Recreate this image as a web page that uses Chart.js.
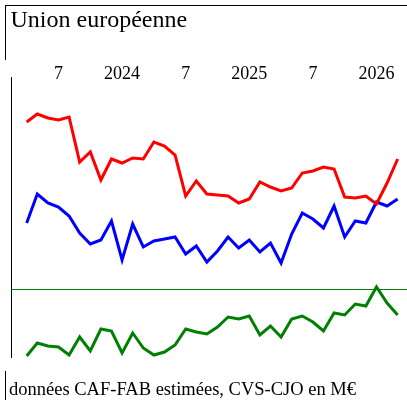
<!DOCTYPE html>
<html>
<head>
<meta charset="utf-8">
<script src="https://cdn.jsdelivr.net/npm/chart.js@4/dist/chart.umd.min.js"></script>
<style>
  html, body { margin: 0; padding: 0; background: #fff; }
  body { width: 407px; height: 400px; position: relative; overflow: hidden; font-family: "Liberation Serif", "Times New Roman", serif; }
  #c { position: absolute; left: 0; top: 0; }
  .box { position: absolute; box-sizing: border-box; }
  #titlebox { left: 5px; top: 5px; width: 402px; height: 55px; border-top: 1px solid #000; border-left: 1px solid #000; }
  #footbox { left: 5px; top: 371px; width: 402px; height: 29px; border-left: 1px solid #000; }
  .txt { position: absolute; white-space: nowrap; color: #000; }
  #title { left: 10.5px; top: 7.4px; font-size: 24px; line-height: 24px; }
  #foot { left: 9px; top: 379.5px; font-size: 18.5px; line-height: 18.5px; }
</style>
</head>
<body>
<canvas id="c" width="407" height="400"></canvas>
<div class="box" id="titlebox"></div>
<div class="box" id="footbox"></div>
<div class="txt" id="title">Union européenne</div>
<div class="txt" id="foot">données CAF-FAB estimées, CVS-CJO en M€</div>
<script>
// Months (categories), April 2023 to March 2026
const months = [
  '2023-04','2023-05','2023-06','2023-07','2023-08','2023-09','2023-10','2023-11','2023-12',
  '2024-01','2024-02','2024-03','2024-04','2024-05','2024-06','2024-07','2024-08','2024-09',
  '2024-10','2024-11','2024-12','2025-01','2025-02','2025-03','2025-04','2025-05','2025-06',
  '2025-07','2025-08','2025-09','2025-10','2025-11','2025-12','2026-01','2026-02','2026-03'
];
// Series values
const redSeries = [16.7,17.5,17.1,16.9,17.2,12.7,13.7,10.9,13.0,12.6,13.1,13.0,14.7,14.3,13.4,9.3,10.8,9.5,
                   9.4,9.3,8.6,9.0,10.7,10.2,9.8,10.1,11.6,11.8,12.2,12.0,9.2,9.1,9.3,8.5,10.6,13.0];
const blueSeries = [6.6,9.5,8.6,8.2,7.3,5.6,4.5,4.9,6.8,2.9,6.5,4.2,4.8,5.0,5.2,3.5,4.3,2.7,
                    3.8,5.2,4.1,4.9,3.7,4.6,2.6,5.5,7.6,7.0,6.1,8.3,5.2,6.8,6.6,8.7,8.3,9.0];
const greenSeries = [-6.7,-5.4,-5.7,-5.8,-6.6,-4.8,-6.2,-4.0,-4.2,-6.4,-4.4,-5.9,-6.6,-6.3,-5.6,-4.0,-4.3,-4.5,
                     -3.8,-2.8,-3.0,-2.7,-4.6,-3.7,-4.8,-3.0,-2.7,-3.3,-4.2,-2.4,-2.6,-1.5,-1.7,0.2,-1.4,-2.6];

// Tick labels: "7" for July, the year for January
function tickLabelFor(m) {
  const [y, mo] = m.split('-');
  if (mo === '01') return y;
  if (mo === '07') return '7';
  return null;
}

const toPoints = arr => arr.map((v, i) => ({ x: i, y: v }));

new Chart(document.getElementById('c'), {
  type: 'line',
  data: {
    datasets: [
      { data: toPoints(redSeries), borderColor: 'rgb(255,0,0)', borderWidth: 3, pointRadius: 0, fill: false, tension: 0 },
      { data: toPoints(blueSeries), borderColor: 'rgb(0,0,255)', borderWidth: 3, pointRadius: 0, fill: false, tension: 0 },
      { data: toPoints(greenSeries), borderColor: 'rgb(0,128,0)', borderWidth: 3, pointRadius: 0, fill: false, tension: 0 }
    ]
  },
  options: {
    responsive: false,
    animation: false,
    events: [],
    layout: { padding: { left: 11, right: 0, top: 63.7, bottom: 43 } },
    plugins: { legend: { display: false }, tooltip: { enabled: false }, title: { display: false } },
    scales: {
      x: {
        type: 'linear',
        position: 'top',
        min: -1.48,
        max: 35.88,
        grid: { display: false, drawTicks: false },
        border: { display: false },
        afterBuildTicks: (scale) => {
          scale.ticks = months.map((m, i) => ({ value: i, m })).filter(t => tickLabelFor(t.m) !== null).map(t => ({ value: t.value }));
        },
        afterFit: (scale) => { scale.height = 13.3; },
        ticks: {
          autoSkip: false,
          maxRotation: 0,
          mirror: true,
          padding: -13.3,
          color: '#000',
          font: { family: '"Liberation Serif", "Times New Roman", serif', size: 18 },
          callback: (v) => tickLabelFor(months[Math.round(v)])
        }
      },
      y: {
        min: -6.8,
        max: 21.2,
        afterBuildTicks: (scale) => { scale.ticks = [{ value: 0 }]; },
        ticks: { display: false },
        grid: {
          drawTicks: false,
          lineWidth: 1,
          color: (ctx) => (ctx.tick && ctx.tick.value === 0 ? 'rgb(0,128,0)' : 'rgba(0,0,0,0)')
        },
        border: { display: true, color: '#000', width: 1 }
      }
    }
  }
});
</script>
</body>
</html>
